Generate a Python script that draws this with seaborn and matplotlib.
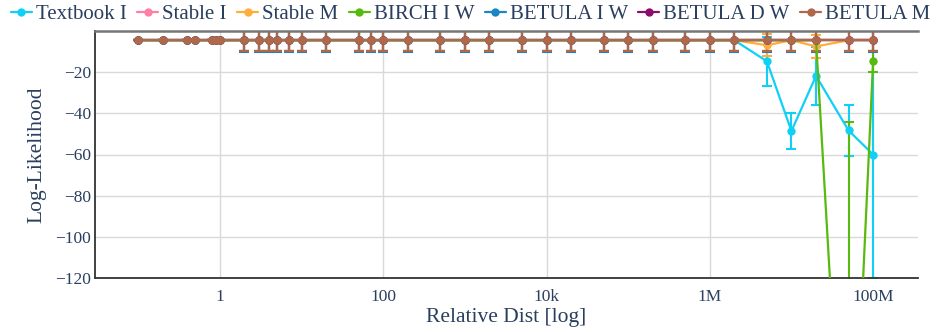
import matplotlib
matplotlib.use("Agg")
import matplotlib.pyplot as plt
import seaborn as sns
import pandas as pd
import numpy as np
from matplotlib.ticker import FixedLocator, FixedFormatter, NullLocator

# ---------------- data ----------------
dist = [0.1, 0.2, 0.4, 0.5, 0.8, 0.9, 1,
        2, 3, 4, 5, 7, 10, 20, 50, 70, 100, 200, 500,
        1e3, 2e3, 5e3, 1e4, 2e4, 5e4, 1e5, 2e5, 5e5, 1e6,
        2e6, 5e6, 1e7, 2e7, 5e7, 1e8]

series_names = ["Textbook I", "Stable I", "Stable M", "BIRCH I W",
                "BETULA I W", "BETULA D W", "BETULA M"]

textbook_i = [-4.5, -4.5, -4.5, -4.5, -4.5, -4.5, -4.5,
              -4.5, -4.5, -4.5, -4.5, -4.5, -4.5, -4.5, -4.5, -4.5, -4.5, -4.5, -4.5,
              -4.5, -4.5, -4.5, -4.5, -4.5, -4.5, -4.5, -4.5, -4.5, -4.5,
              -4.5, -14.7, -48.6, -21.8, -48.3, -60.0]
textbook_i_err = [0, 0, 0, 0, 0, 0, 0,
                  5.4, 5.4, 5.4, 5.4, 5.4, 5.4, 5.4, 5.4, 5.4, 5.4, 5.4, 5.4,
                  5.4, 5.4, 5.4, 5.4, 5.4, 5.4, 5.4, 5.4, 5.4, 5.4,
                  5.4, 12.0, 8.7, 14.0, 12.4, 60.0]

stable_i = [-4.5, -4.5, -4.5, -4.5, -4.5, -4.5, -4.5,
            -4.5, -4.5, -4.5, -4.5, -4.5, -4.5, -4.5, -4.5, -4.5, -4.5, -4.5, -4.5,
            -4.5, -4.5, -4.5, -4.5, -4.5, -4.5, -4.5, -4.5, -4.5, -4.5,
            -4.5, -4.5, -4.5, -4.5, -4.5, -4.5]
stable_i_err = [0, 0, 0, 0, 0, 0, 0,
                5.2, 5.4, 5.4, 5.4, 5.4, 5.4, 5.4, 5.4, 5.4, 5.4, 5.4, 5.4,
                5.4, 5.4, 5.4, 5.4, 5.4, 5.4, 5.4, 5.4, 5.4, 5.4,
                5.4, 5.4, 5.4, 5.4, 5.4, 5.4]

stable_m = [-4.5, -4.5, -4.5, -4.5, -4.5, -4.5, -4.5,
            -4.5, -4.5, -4.5, -4.5, -4.5, -4.5, -4.5, -4.5, -4.5, -4.5, -4.5, -4.5,
            -4.5, -4.5, -4.5, -4.5, -4.5, -4.5, -4.5, -4.5, -4.5, -4.5,
            -4.5, -6.9, -4.5, -7.5, -4.5, -4.5]
stable_m_err = [0, 0, 0, 0, 0, 0, 0,
                5.4, 5.4, 5.4, 5.4, 5.4, 5.4, 5.4, 5.4, 5.4, 5.4, 5.4, 5.4,
                5.4, 5.4, 5.4, 5.4, 5.4, 5.4, 5.4, 5.4, 5.4, 5.4,
                5.4, 5.4, 5.4, 5.4, 5.4, 5.4]

birch_i_w = [-4.5, -4.5, -4.5, -4.5, -4.5, -4.5, -4.5,
             -4.5, -4.5, -4.5, -4.5, -4.5, -4.5, -4.5, -4.5, -4.5, -4.5, -4.5, -4.5,
             -4.5, -4.5, -4.5, -4.5, -4.5, -4.5, -4.5, -4.5, -4.5, -4.5,
             -4.5, -4.5, -4.5, -4.5, -275.0, -14.7]
birch_i_w_err = [0, 0, 0, 0, 0, 0, 0,
                 5.4, 5.4, 5.4, 5.4, 5.4, 5.4, 5.4, 5.4, 5.4, 5.4, 5.4, 5.4,
                 5.4, 5.4, 5.4, 5.4, 5.4, 5.4, 5.4, 5.4, 5.4, 5.4,
                 5.4, 5.4, 5.4, 5.4, 231.0, 5.0]

betula_i_w = [-4.5, -4.5, -4.5, -4.5, -4.5, -4.5, -4.5,
              -4.5, -4.5, -4.5, -4.5, -4.5, -4.5, -4.5, -4.5, -4.5, -4.5, -4.5, -4.5,
              -4.5, -4.5, -4.5, -4.5, -4.5, -4.5, -4.5, -4.5, -4.5, -4.5,
              -4.5, -4.5, -4.5, -4.5, -4.5, -4.5]
betula_i_w_err = [0, 0, 0, 0, 0, 0, 0,
                  5.5, 5.5, 5.5, 5.5, 5.5, 5.5, 5.5, 5.5, 5.5, 5.5, 5.5, 5.5,
                  5.5, 5.5, 5.5, 5.5, 5.5, 5.5, 5.5, 5.5, 5.5, 5.5,
                  5.5, 5.5, 5.5, 5.5, 5.5, 5.5]

betula_d_w = [-4.5, -4.5, -4.5, -4.5, -4.5, -4.5, -4.5,
              -4.5, -4.5, -4.5, -4.5, -4.5, -4.5, -4.5, -4.5, -4.5, -4.5, -4.5, -4.5,
              -4.5, -4.5, -4.5, -4.5, -4.5, -4.5, -4.5, -4.5, -4.5, -4.5,
              -4.5, -4.5, -4.5, -4.5, -4.5, -4.5]
betula_d_w_err = [0, 0, 0, 0, 0, 0, 0,
                  5.4, 5.4, 5.4, 5.4, 5.4, 5.4, 5.4, 5.4, 5.4, 5.4, 5.4, 5.4,
                  5.4, 5.4, 5.4, 5.4, 5.4, 5.4, 5.4, 5.4, 5.4, 5.4,
                  5.4, 5.4, 5.4, 5.4, 5.4, 5.4]

betula_m = [-4.5, -4.5, -4.5, -4.5, -4.5, -4.5, -4.5,
            -4.5, -4.5, -4.5, -4.5, -4.5, -4.5, -4.5, -4.5, -4.5, -4.5, -4.5, -4.5,
            -4.5, -4.5, -4.5, -4.5, -4.5, -4.5, -4.5, -4.5, -4.5, -4.5,
            -4.5, -4.5, -4.5, -4.5, -4.5, -4.5]
betula_m_err = [0, 0, 0, 0, 0, 0, 0,
                5.3, 5.3, 5.3, 5.3, 5.3, 5.3, 5.3, 5.3, 5.3, 5.3, 5.3, 5.3,
                5.3, 5.3, 5.3, 5.3, 5.3, 5.3, 5.3, 5.3, 5.3, 5.3,
                5.3, 5.3, 5.3, 5.3, 5.3, 5.3]

values = [textbook_i, stable_i, stable_m, birch_i_w, betula_i_w, betula_d_w, betula_m]
errors = [textbook_i_err, stable_i_err, stable_m_err, birch_i_w_err,
          betula_i_w_err, betula_d_w_err, betula_m_err]

xtick_vals = [1, 100, 1e4, 1e6, 1e8]
xtick_labels = ["1", "100", "10k", "1M", "100M"]
ytick_vals = [-20, -40, -60, -80, -100, -120]
ytick_labels = ["\u221220", "\u221240", "\u221260", "\u221280", "\u2212100", "\u2212120"]

colors = ["#12d0f5", "#ff7fa6", "#ffad3b", "#58b90e", "#1b87c2", "#8c0b6b", "#b0684a"]

# ---------------- long table ----------------
rows = []
for name, vals, errs in zip(series_names, values, errors):
    for d, v, e in zip(dist, vals, errs):
        rows.append({"dist": d, "ll": v, "err": e, "series": name})
df = pd.DataFrame(rows)

# ---------------- style ----------------
sns.set_style("white")
plt.rcParams["font.family"] = ["Liberation Serif", "DejaVu Serif"]
TXT = "#2a3f5f"

fig = plt.figure(figsize=(9.43, 3.32), dpi=100)
ax = fig.add_axes([95 / 943, 1 - 278 / 332, (918 - 95) / 943, (278 - 31) / 332])

# error bars (beneath lines)
for i, (name, col) in enumerate(zip(series_names, colors)):
    sub = df[df["series"] == name]
    ax.errorbar(sub["dist"], sub["ll"], yerr=sub["err"], fmt="none",
                ecolor=col, elinewidth=1.5, capsize=3.5, capthick=1.5,
                zorder=2 + i * 0.01)

sns.lineplot(data=df, x="dist", y="ll", hue="series", hue_order=series_names,
             palette=colors, marker="o", markersize=6, markeredgewidth=0,
             linewidth=1.6, sort=False, estimator=None, ax=ax, zorder=3)

ax.set_xscale("log")
ax.set_xlim(10 ** -1.53, 10 ** 8.55)
ax.set_ylim(-120, 0)

ax.xaxis.set_major_locator(FixedLocator(xtick_vals))
ax.xaxis.set_major_formatter(FixedFormatter(xtick_labels))
ax.xaxis.set_minor_locator(NullLocator())
ax.yaxis.set_major_locator(FixedLocator(ytick_vals))
ax.yaxis.set_major_formatter(FixedFormatter(ytick_labels))

ax.grid(True, color="#d9d9d9", linewidth=1.0, zorder=0)
ax.set_axisbelow(True)
ax.tick_params(axis="both", length=0, labelsize=12.5, labelcolor=TXT)
ax.tick_params(axis="x", pad=8)
ax.tick_params(axis="y", pad=3)

for side in ["left", "bottom"]:
    ax.spines[side].set_color("#333333")
    ax.spines[side].set_linewidth(1.3)
ax.spines["right"].set_visible(False)
ax.spines["top"].set_color("#777777")
ax.spines["top"].set_linewidth(1.8)

ax.set_xlabel("Relative Dist [log]", fontsize=15.5, color=TXT, labelpad=2)
ax.set_ylabel("Log-Likelihood", fontsize=15.5, color=TXT, labelpad=6)

handles, labels = ax.get_legend_handles_labels()
ax.legend_.remove()
fig.legend(handles, labels, loc="center left", bbox_to_anchor=(11 / 943, 1 - 14 / 332),
           ncol=7, frameon=False, fontsize=15, labelcolor=TXT,
           handlelength=1.0, handletextpad=0.2, columnspacing=0.5,
           borderaxespad=0, borderpad=0)

fig.savefig("out.png", dpi=100)
